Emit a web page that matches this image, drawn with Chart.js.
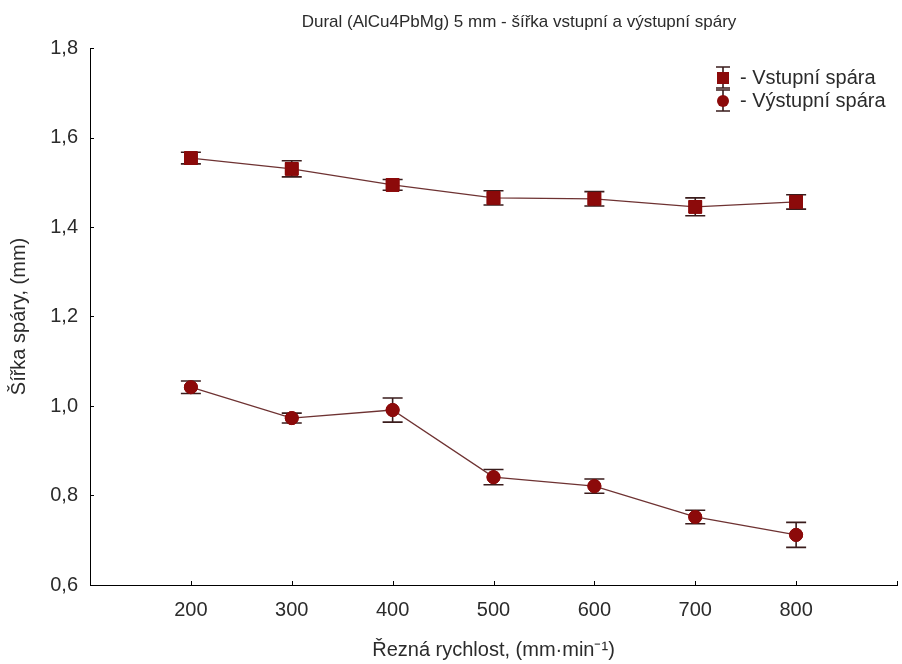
<!DOCTYPE html>
<html lang="cs">
<head>
<meta charset="utf-8">
<title>Dural (AlCu4PbMg) 5 mm</title>
<script src="https://cdn.jsdelivr.net/npm/chart.js@4.4.1/dist/chart.umd.min.js"></script>
<style>
    html, body { margin: 0; padding: 0; background: #fff; }
    #wrap { width: 902px; height: 664px; }
</style>
</head>
<body>
<div id="wrap"><canvas id="gapChart" width="902" height="664"></canvas></div>
<script>
// Values
const speeds = [200, 300, 400, 500, 600, 700, 800];
const inletWidth = [1.554, 1.530, 1.494, 1.465, 1.463, 1.445, 1.456];
const inletError = [0.013, 0.018, 0.012, 0.016, 0.016, 0.020, 0.016];
const outletWidth = [1.042, 0.973, 0.991, 0.841, 0.821, 0.752, 0.712];
const outletError = [0.014, 0.011, 0.027, 0.017, 0.016, 0.015, 0.028];
const xTickValues = [200, 300, 400, 500, 600, 700, 800];
const seriesNames = ['- Vstupní spára', '- Výstupní spára'];

const FONT = '"Liberation Sans", Arial, sans-serif';
const TEXT = '#2b2b2b';
const MARK = '#8c0a0a';
const LINE = '#6e3232';
const WHISKER = '#3a1c1c';

class GapChart {
    constructor(canvas) {
        this.canvas = canvas;
        this.init();
    }

    init() {
        const datasets = [
            this.makeDataset(seriesNames[0], inletWidth, inletError, 'rect', 9),
            this.makeDataset(seriesNames[1], outletWidth, outletError, 'circle', 6.5)
        ];

        this.chart = new Chart(this.canvas, {
            type: 'line',
            data: { datasets },
            options: {
                responsive: false,
                animation: false,
                layout: {
                    autoPadding: false,
                    padding: { top: 48, right: 5, left: 0, bottom: 0 }
                },
                plugins: {
                    legend: { display: false },
                    tooltip: { enabled: false }
                },
                scales: {
                    x: {
                        type: 'linear',
                        min: 100,
                        max: 900,
                        afterFit: scale => {
                            scale.height = 79;
                            scale.paddingLeft = 0;
                            scale.paddingRight = 0;
                        },
                        afterBuildTicks: scale => {
                            scale.ticks = [100, ...xTickValues, 900].map(v => ({ value: v }));
                        },
                        border: { color: '#000', width: 1 },
                        grid: { display: true, drawOnChartArea: false, drawTicks: false },
                        ticks: {
                            color: TEXT,
                            font: { family: FONT, size: 20 },
                            padding: 13,
                            maxRotation: 0,
                            autoSkip: false,
                            callback: v => xTickValues.includes(v) ? String(v) : ''
                        },
                        title: {
                            display: true,
                            text: 'Řezná rychlost, (mm·min⁻¹)',
                            color: TEXT,
                            font: { family: FONT, size: 20 },
                            padding: { top: 0, bottom: 2 }
                        }
                    },
                    y: {
                        min: 0.6,
                        max: 1.8,
                        afterFit: scale => {
                            scale.width = 90;
                            scale.paddingTop = 0;
                            scale.paddingBottom = 0;
                        },
                        border: { color: '#000', width: 1 },
                        grid: { display: true, drawOnChartArea: false, drawTicks: false },
                        ticks: {
                            stepSize: 0.2,
                            color: TEXT,
                            font: { family: FONT, size: 20 },
                            padding: 12,
                            callback: v => v.toFixed(1).replace('.', ',')
                        },
                        title: {
                            display: true,
                            text: 'Šířka spáry, (mm)',
                            color: TEXT,
                            font: { family: FONT, size: 20 },
                            padding: { top: 7, bottom: 0 }
                        }
                    }
                }
            },
            plugins: [this.errorBarPlugin(), this.inwardTickPlugin(), this.titleLegendPlugin()]
        });
    }

    makeDataset(label, values, errors, style, radius) {
        return {
            label,
            data: speeds.map((s, i) => ({ x: s, y: values[i] })),
            errors,
            borderColor: LINE,
            borderWidth: 1.3,
            pointStyle: style,
            pointRadius: radius,
            pointBackgroundColor: MARK,
            pointBorderColor: MARK,
            pointBorderWidth: 1,
            tension: 0
        };
    }

    // whiskers drawn from the scales, under the markers
    errorBarPlugin() {
        return {
            id: 'errorBars',
            afterDatasetsDraw: chart => {
                const { ctx, scales: { x, y } } = chart;
                ctx.save();
                ctx.strokeStyle = WHISKER;
                ctx.lineWidth = 1.6;
                chart.data.datasets.forEach(ds => {
                    ds.data.forEach((pt, i) => {
                        const px = x.getPixelForValue(pt.x);
                        const top = y.getPixelForValue(pt.y + ds.errors[i]);
                        const bottom = y.getPixelForValue(pt.y - ds.errors[i]);
                        ctx.beginPath();
                        ctx.moveTo(px, top);
                        ctx.lineTo(px, bottom);
                        ctx.moveTo(px - 10, top);
                        ctx.lineTo(px + 10, top);
                        ctx.moveTo(px - 10, bottom);
                        ctx.lineTo(px + 10, bottom);
                        ctx.stroke();
                    });
                });
                // put markers back on top of the whiskers
                chart.data.datasets.forEach((ds, i) => {
                    chart.getDatasetMeta(i).data.forEach(el => el.draw(ctx, chart.chartArea));
                });
                ctx.restore();
            }
        };
    }

    // small tick marks pointing into the plot
    inwardTickPlugin() {
        return {
            id: 'inwardTicks',
            afterDraw: chart => {
                const { ctx, chartArea, scales: { x, y } } = chart;
                ctx.save();
                ctx.strokeStyle = '#000';
                ctx.lineWidth = 1;
                ctx.beginPath();
                x.ticks.forEach(t => {
                    if (t.value <= x.min) return;
                    const px = Math.round(x.getPixelForValue(t.value)) + 0.5;
                    ctx.moveTo(px, chartArea.bottom);
                    ctx.lineTo(px, chartArea.bottom - 4);
                });
                y.ticks.forEach(t => {
                    if (t.value <= y.min) return;
                    const py = Math.round(y.getPixelForValue(t.value)) + 0.5;
                    ctx.moveTo(chartArea.left, py);
                    ctx.lineTo(chartArea.left + 4, py);
                });
                ctx.stroke();
                ctx.restore();
            }
        };
    }

    // chart title and the legend box in the top right corner
    titleLegendPlugin() {
        return {
            id: 'titleLegend',
            afterDraw: chart => {
                const ctx = chart.ctx;
                ctx.save();
                ctx.fillStyle = TEXT;
                ctx.font = `17px ${FONT}`;
                ctx.textAlign = 'center';
                ctx.textBaseline = 'middle';
                ctx.fillText('Dural (AlCu4PbMg) 5 mm - šířka vstupní a výstupní spáry', 519, 22);

                ctx.font = `20px ${FONT}`;
                const rows = [78, 101];
                chart.data.datasets.forEach((ds, i) => {
                    const cy = rows[i];
                    const cx = 723;
                    ctx.strokeStyle = WHISKER;
                    ctx.lineWidth = 1.6;
                    ctx.beginPath();
                    ctx.moveTo(cx, cy - 11);
                    ctx.lineTo(cx, cy + 10);
                    ctx.moveTo(cx - 7, cy - 11);
                    ctx.lineTo(cx + 7, cy - 11);
                    ctx.moveTo(cx - 7, cy + 10);
                    ctx.lineTo(cx + 7, cy + 10);
                    ctx.stroke();
                    ctx.fillStyle = MARK;
                    ctx.beginPath();
                    if (ds.pointStyle === 'rect') {
                        ctx.rect(cx - 6, cy - 6, 12, 12);
                    } else {
                        ctx.arc(cx, cy, 6, 0, Math.PI * 2);
                    }
                    ctx.fill();
                    ctx.fillStyle = TEXT;
                    ctx.textAlign = 'left';
                    ctx.fillText(ds.label, 740, cy);
                });
                ctx.restore();
            }
        };
    }
}

document.addEventListener('DOMContentLoaded', () => {
    window.gapChart = new GapChart(document.getElementById('gapChart'));
});
</script>
</body>
</html>
